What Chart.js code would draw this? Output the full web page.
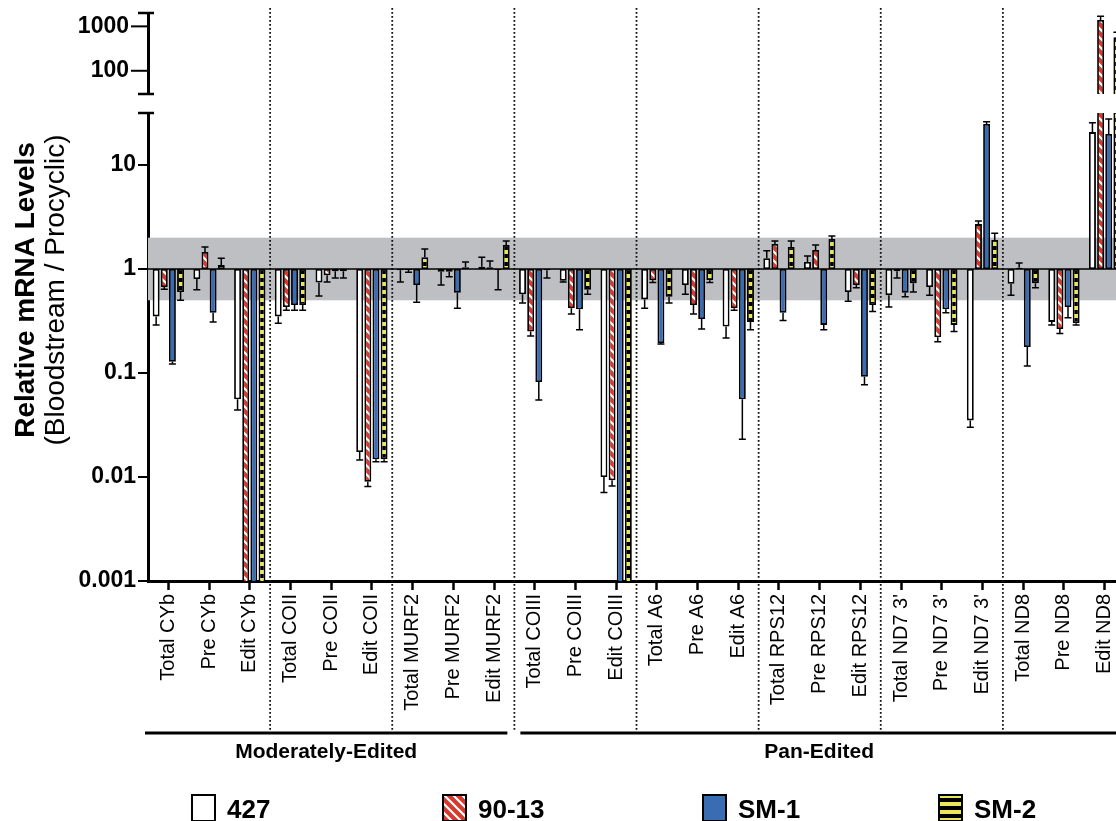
<!DOCTYPE html>
<html><head><meta charset="utf-8">
<script src="https://cdn.jsdelivr.net/npm/chart.js@4.4.1/dist/chart.umd.min.js"></script>
<style>html,body{margin:0;padding:0;overflow:hidden;background:#fff}#wrap{width:1240px;height:821px}</style>
</head><body><div id="wrap"><canvas id="c" width="1240" height="821"></canvas></div>
<script>
const categories = ['Total CYb','Pre CYb','Edit CYb','Total COII','Pre COII','Edit COII','Total MURF2','Pre MURF2','Edit MURF2','Total COIII','Pre COIII','Edit COIII','Total A6','Pre A6','Edit A6','Total RPS12','Pre RPS12','Edit RPS12',"Total ND7 3'","Pre ND7 3'","Edit ND7 3'",'Total ND8','Pre ND8','Edit ND8'];
const groupNames = ['Moderately-Edited','Pan-Edited'];
const groupFirst = [0, 9];
const groupLast = [8, 23];
const seriesNames = ['427','90-13','SM-1','SM-2'];
const val427  = [0.35,0.80,0.056,0.35,0.74,0.0174,0.97,0.94,1.05,0.57,0.77,0.0100,0.51,0.70,0.28,1.27,1.17,0.60,0.56,0.67,0.035,0.72,0.31,20.7];
const err427  = [0.29,0.63,0.044,0.30,0.55,0.0146,0.75,0.70,1.30,0.47,0.75,0.0071,0.42,0.57,0.217,1.50,1.33,0.49,0.43,0.56,0.030,0.56,0.29,25.4];
const val9013 = [0.67,1.46,0.0005,0.43,0.87,0.0090,0.98,0.94,1.04,0.25,0.42,0.0093,0.78,0.45,0.42,1.74,1.52,0.70,0.95,0.22,2.7,1.03,0.265,1400];
const err9013 = [0.64,1.63,null,0.40,0.75,0.0081,0.93,0.84,1.19,0.227,0.37,0.0082,0.74,0.37,0.40,1.86,1.70,0.66,0.82,0.20,2.9,1.14,0.24,1700];
const valSM1  = [0.128,0.38,0.0005,0.45,0.95,0.0148,0.70,0.59,0.98,0.082,0.41,0.0005,0.194,0.33,0.056,0.38,0.29,0.092,0.59,0.41,24.8,0.178,0.43,19.9];
const errSM1  = [0.122,0.31,null,0.40,0.82,0.0140,0.48,0.42,0.63,0.055,0.26,null,0.19,0.265,0.023,0.32,0.26,0.077,0.54,0.38,26.0,0.117,0.34,27.6];
const valSM2  = [0.60,1.09,0.0005,0.45,0.95,0.0148,1.30,1.04,1.70,0.97,0.63,0.0005,0.54,0.78,0.31,1.63,1.94,0.45,0.73,0.29,1.9,0.73,0.30,570];
const errSM2  = [0.50,1.27,null,0.40,0.82,0.0140,1.56,1.17,1.86,0.82,0.57,null,0.47,0.74,0.26,1.86,2.07,0.39,0.60,0.25,2.2,0.66,0.29,740];
const lowRange = [0.001, 31.6];
const highRange = [30, 2000];
const lowMajorTicks = [0.001, 0.01, 0.1, 1, 10];
const highMajorTicks = [100, 1000];
const bandRange = [0.5, 2];

const FONT = '"Liberation Sans", Arial, Helvetica, sans-serif';
const RED = '#d63a2e', BLUE = '#3a6cb4', YELLOW = '#ebe75c', GRAY = '#bebfc3';

function stripePattern(){
  const c = document.createElement('canvas'); c.width = 9; c.height = 9;
  const g = c.getContext('2d');
  g.fillStyle = RED; g.fillRect(0,0,9,9);
  g.strokeStyle = '#fff'; g.lineWidth = 2.2; g.beginPath();
  for (let k=-1;k<=1;k++){ g.moveTo(k*9-2,-2); g.lineTo(k*9+11,11); }
  g.stroke();
  return g.createPattern(c,'repeat');
}
function blockPattern(){
  const c = document.createElement('canvas'); c.width = 4; c.height = 8;
  const g = c.getContext('2d');
  g.fillStyle = '#000'; g.fillRect(0,0,4,8);
  g.fillStyle = YELLOW; g.fillRect(0,2,4,4);
  return g.createPattern(c,'repeat');
}

const series = [
  {name: seriesNames[0], values: val427,  errors: err427,  bg: '#ffffff'},
  {name: seriesNames[1], values: val9013, errors: err9013, bg: stripePattern()},
  {name: seriesNames[2], values: valSM1,  errors: errSM1,  bg: BLUE},
  {name: seriesNames[3], values: valSM2,  errors: errSM2,  bg: blockPattern()}
];

const datasets = [];
['yLow','yHigh'].forEach(axis => series.forEach((s,k) => datasets.push({
  label: s.name, data: s.values.map(v => [1, v]), yAxisID: axis, xAxisID: 'x', stack: 's'+k,
  backgroundColor: s.bg, borderColor: '#000', borderWidth: 1.8, borderSkipped: false,
  categoryPercentage: 0.8, barPercentage: 0.85
})));

const isPow10 = v => Math.abs(Math.log10(v) - Math.round(Math.log10(v))) < 1e-9;
function buildLogTicks(min, max){
  const out = [];
  for (let e = Math.floor(Math.log10(min)); e <= Math.ceil(Math.log10(max)); e++){
    for (let m = 1; m <= 9; m++){
      const v = Number((m * Math.pow(10, e)).toPrecision(6));
      if (v >= min - 1e-12 && v <= max + 1e-9) out.push({value: v, major: m === 1});
    }
  }
  return out;
}
function labelFor(majors){
  return v => majors.some(m => Math.abs(m - v) / m < 1e-9) ? String(v) : null;
}
function fitY(s){ s.width = 148; s.paddingTop = 0; s.paddingBottom = 0; }

const clipPlugin = {
  id: 'axisClip',
  beforeDatasetDraw(chart, args){
    const s = chart.scales[args.meta.yAxisID], a = chart.chartArea;
    chart.ctx.save(); chart.ctx.beginPath();
    chart.ctx.rect(a.left, s.top, a.right - a.left, s.bottom - s.top); chart.ctx.clip();
  },
  afterDatasetDraw(chart){ chart.ctx.restore(); }
};

const decorPlugin = {
  id: 'decor',
  beforeDatasetsDraw(chart){
    const ctx = chart.ctx, a = chart.chartArea, yl = chart.scales.yLow, x = chart.scales.x;
    ctx.save();
    const y1 = yl.getPixelForValue(bandRange[1]), y0 = yl.getPixelForValue(bandRange[0]);
    ctx.fillStyle = GRAY; ctx.fillRect(a.left, y1, a.right - a.left, y0 - y1);
    ctx.strokeStyle = '#111'; ctx.lineWidth = 1.8; ctx.setLineDash([1.8, 2.2]);
    for (let i = 3; i < categories.length; i += 3){
      const xs = (x.getPixelForValue(i-1) + x.getPixelForValue(i)) / 2;
      ctx.beginPath(); ctx.moveTo(xs, 8); ctx.lineTo(xs, 732); ctx.stroke();
    }
    ctx.restore();
  },
  afterDatasetsDraw(chart){
    const ctx = chart.ctx, a = chart.chartArea, yl = chart.scales.yLow, yh = chart.scales.yHigh;
    ctx.save();
    ctx.strokeStyle = '#000'; ctx.lineWidth = 1.5;
    const yb = yl.getPixelForValue(1);
    ctx.beginPath(); ctx.moveTo(a.left, yb); ctx.lineTo(a.right, yb); ctx.stroke();
    series.forEach((s, k) => {
      const meta = chart.getDatasetMeta(k);
      s.values.forEach((v, i) => {
        const e = s.errors[i];
        if (e == null) return;
        const bx = meta.data[i].x;
        [yl, yh].forEach(sc => {
          const p0 = sc.getPixelForValue(v), p1 = sc.getPixelForValue(e);
          if ((p0 > sc.bottom && p1 > sc.bottom) || (p0 < sc.top && p1 < sc.top)) return;
          ctx.save(); ctx.beginPath(); ctx.rect(a.left, sc.top - 3, a.right - a.left, sc.bottom - sc.top + 6); ctx.clip();
          ctx.strokeStyle = '#000'; ctx.lineWidth = 1.5;
          ctx.beginPath(); ctx.moveTo(bx, p0); ctx.lineTo(bx, p1);
          ctx.moveTo(bx - 3.5, p1); ctx.lineTo(bx + 3.5, p1); ctx.stroke();
          ctx.restore();
        });
      });
    });
    ctx.restore();
  },
  afterDraw(chart){
    const ctx = chart.ctx, yl = chart.scales.yLow, yh = chart.scales.yHigh, x = chart.scales.x;
    ctx.save();
    ctx.strokeStyle = '#000'; ctx.lineWidth = 2;
    const drawTicks = (s, majorLen, minorLen) => {
      s.ticks.forEach(t => {
        const y = s.getPixelForValue(t.value);
        const len = isPow10(t.value) ? majorLen : minorLen;
        ctx.beginPath(); ctx.moveTo(s.right - len, y); ctx.lineTo(s.right, y); ctx.stroke();
      });
    };
    drawTicks(yl, 10, 6);
    drawTicks(yh, 17, 8);
    ctx.lineWidth = 2.5;
    [[yh, yh.top], [yh, yh.bottom], [yl, yl.top]].forEach(([s, y]) => {
      ctx.beginPath(); ctx.moveTo(s.right - 10, y); ctx.lineTo(s.right + 6, y); ctx.stroke();
    });
    ctx.fillStyle = '#000';
    ctx.translate(26, 290); ctx.rotate(-Math.PI/2);
    ctx.textAlign = 'center'; ctx.textBaseline = 'middle';
    ctx.font = 'bold 28px ' + FONT; ctx.fillText('Relative mRNA Levels', 0, 0);
    ctx.font = '28px ' + FONT; ctx.fillText('(Bloodstream / Procyclic)', 0, 30);
    ctx.setTransform(1,0,0,1,0,0);
    const w = x.getPixelForValue(1) - x.getPixelForValue(0);
    groupNames.forEach((g, j) => {
      const l0 = x.getPixelForValue(groupFirst[j]) - w/2;
      const r0 = x.getPixelForValue(groupLast[j]) + w/2;
      const l = j === 0 ? l0 - 3 : l0 + 6, r = r0 - 7;
      ctx.lineWidth = 3; ctx.strokeStyle = '#000';
      ctx.beginPath(); ctx.moveTo(l, 733); ctx.lineTo(r, 733); ctx.stroke();
      ctx.font = 'bold 21px ' + FONT; ctx.textAlign = 'center'; ctx.textBaseline = 'middle'; ctx.fillStyle = '#000';
      ctx.fillText(g, (l + r) / 2, 752);
    });
    const legendX = [192, 443, 703, 939];
    series.forEach((s, k) => {
      const bx = legendX[k];
      ctx.fillStyle = s.bg; ctx.fillRect(bx, 795, 23, 26);
      ctx.lineWidth = 2; ctx.strokeStyle = '#000'; ctx.strokeRect(bx, 795, 23, 26);
      ctx.fillStyle = '#000'; ctx.font = 'bold 26px ' + FONT; ctx.textAlign = 'left'; ctx.textBaseline = 'alphabetic';
      ctx.fillText(s.name, bx + 35, 818);
    });
    ctx.restore();
  }
};

const yCommon = {
  type: 'logarithmic', position: 'left', stack: 'y', stacked: false,
  grid: {display: true, drawOnChartArea: false, drawTicks: true, tickColor: 'rgba(0,0,0,0)'},
  border: {display: true, color: '#000', width: 3},
  afterFit: fitY
};

new Chart(document.getElementById('c'), {
  type: 'bar',
  data: {labels: categories, datasets},
  options: {
    responsive: false, animation: false,
    layout: {padding: {top: 13, right: 115, left: 0, bottom: 0}},
    plugins: {legend: {display: false}, tooltip: {enabled: false}},
    scales: {
      x: {
        type: 'category', offset: true,
        grid: {display: true, drawOnChartArea: false, drawTicks: true, tickLength: 9, tickWidth: 2.5, tickColor: '#000', offset: false},
        border: {display: true, color: '#000', width: 3},
        ticks: {autoSkip: false, minRotation: 90, maxRotation: 90, padding: 4, color: '#000', font: {family: FONT, size: 20}},
        afterFit: s => { s.height = 240; }
      },
      yLow: Object.assign({}, yCommon, {
        stackWeight: 468, min: lowRange[0], max: lowRange[1],
        grid: Object.assign({}, yCommon.grid, {tickLength: 10}),
        ticks: {autoSkip: false, padding: 2, color: '#000', font: {family: FONT, size: 23, weight: 'bold'}, callback: labelFor(lowMajorTicks)},
        afterBuildTicks: s => { s.ticks = buildLogTicks(lowRange[0], lowRange[1]); }
      }),
      yGap: {
        type: 'linear', position: 'left', stack: 'y', stackWeight: 19,
        grid: {display: false}, border: {display: false}, ticks: {display: false},
        afterFit: fitY
      },
      yHigh: Object.assign({}, yCommon, {
        stackWeight: 81, min: highRange[0], max: highRange[1],
        grid: Object.assign({}, yCommon.grid, {tickLength: 17}),
        ticks: {autoSkip: false, padding: 2, color: '#000', font: {family: FONT, size: 23, weight: 'bold'}, callback: labelFor(highMajorTicks)},
        afterBuildTicks: s => { s.ticks = buildLogTicks(highRange[0], highRange[1]); }
      })
    }
  },
  plugins: [clipPlugin, decorPlugin]
});
</script>
</body></html>
